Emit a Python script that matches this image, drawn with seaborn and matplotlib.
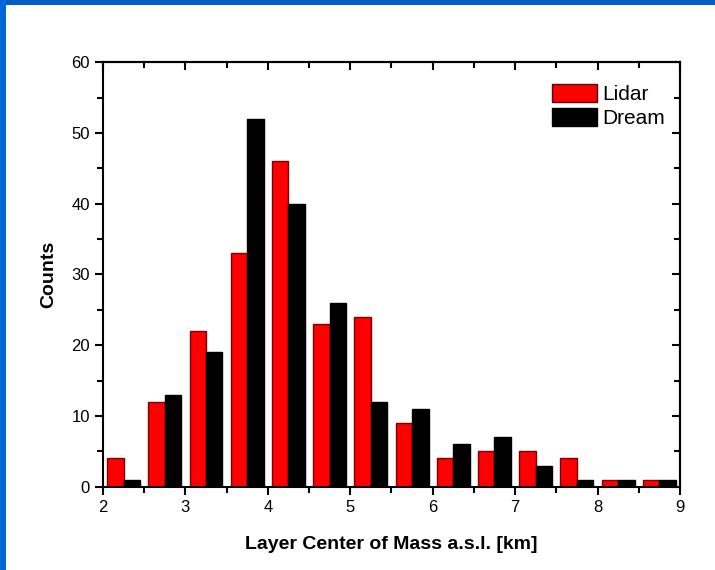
import pandas as pd
import numpy as np
import seaborn as sns
import matplotlib.pyplot as plt
from matplotlib.patches import Rectangle
from matplotlib.ticker import MultipleLocator

bin_centers = [2.25, 2.75, 3.25, 3.75, 4.25, 4.75, 5.25, 5.75, 6.25, 6.75, 7.25, 7.75, 8.25, 8.75]
lidar = [4, 12, 22, 33, 46, 23, 24, 9, 4, 5, 5, 4, 1, 1]
dream = [1, 13, 19, 52, 40, 26, 12, 11, 6, 7, 3, 1, 1, 1]

df = pd.DataFrame({
    'center': bin_centers * 2,
    'count': lidar + dream,
    'source': ['Lidar'] * len(lidar) + ['Dream'] * len(dream),
})

sns.set_style('white')
plt.rcParams['font.family'] = ['Liberation Sans', 'DejaVu Sans']
plt.rcParams['text.color'] = 'black'
plt.rcParams['axes.labelcolor'] = 'black'

fig = plt.figure(figsize=(7.15, 5.7), dpi=100)
ax = fig.add_axes([0.144, 0.146, 0.807, 0.745])

sns.barplot(data=df, x='center', y='count', hue='source', native_scale=True,
            palette={'Lidar': '#ff0000', 'Dream': '#000000'}, width=0.8,
            saturation=1, errorbar=None, ax=ax, legend=False)
for bar, ec in zip(ax.patches, ['#7a0000'] * len(lidar) + ['#000000'] * len(dream)):
    bar.set_edgecolor(ec)
    bar.set_linewidth(1.0)

ax.set_xlim(2, 9)
ax.set_ylim(0, 60)
ax.xaxis.set_major_locator(MultipleLocator(1))
ax.xaxis.set_minor_locator(MultipleLocator(0.5))
ax.yaxis.set_major_locator(MultipleLocator(10))
ax.yaxis.set_minor_locator(MultipleLocator(5))
for s in ax.spines.values():
    s.set_color('black')
    s.set_linewidth(1.5)
ax.tick_params(which='both', direction='out', color='black', width=1.5,
               labelsize=12, labelcolor='black', bottom=True, left=True)
ax.tick_params(which='major', length=6)
ax.tick_params(which='minor', length=4)

# mirrored ticks on top and right, pointing inward
top = ax.secondary_xaxis('top')
top.xaxis.set_major_locator(MultipleLocator(1))
top.xaxis.set_minor_locator(MultipleLocator(0.5))
right = ax.secondary_yaxis('right')
right.yaxis.set_major_locator(MultipleLocator(10))
right.yaxis.set_minor_locator(MultipleLocator(5))
for sec in (top, right):
    sec.tick_params(which='both', direction='in', color='black', width=1.5,
                    labeltop=False, labelright=False, labelbottom=False, labelleft=False)
    sec.tick_params(which='major', length=6)
    sec.tick_params(which='minor', length=4)
    for s in sec.spines.values():
        s.set_linewidth(1.5)
        s.set_color('black')

ax.set_xlabel('Layer Center of Mass a.s.l. [km]', fontsize=14, fontweight='bold', labelpad=15)
ax.set_ylabel('Counts', fontsize=14, fontweight='bold', labelpad=10)

handles = [Rectangle((0, 0), 1, 1, facecolor='#ff0000', edgecolor='#5a0000', linewidth=1),
           Rectangle((0, 0), 1, 1, facecolor='#000000', edgecolor='#000000', linewidth=1)]
ax.legend(handles, ['Lidar', 'Dream'], loc='upper right', bbox_to_anchor=(1.0, 0.982),
          frameon=False, fontsize=15, handlelength=2.2, handleheight=0.9,
          handletextpad=0.25, labelspacing=0.2, borderaxespad=0.3)

# blue frame along top and left edge
fig.patches.append(Rectangle((0, 1 - 5 / 570), 1, 5 / 570, transform=fig.transFigure,
                             facecolor='#005fc2', edgecolor='none'))
fig.patches.append(Rectangle((0, 0), 6 / 715, 1, transform=fig.transFigure,
                             facecolor='#0068d6', edgecolor='none'))

fig.savefig('out.png', dpi=100)
